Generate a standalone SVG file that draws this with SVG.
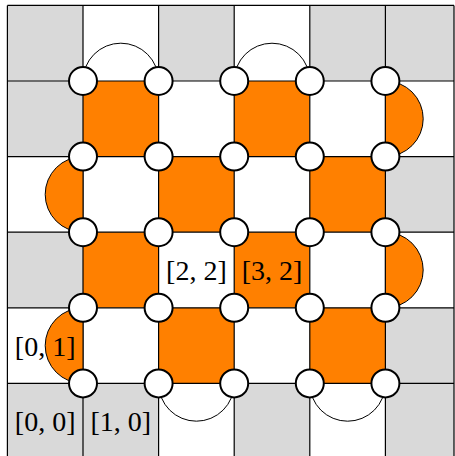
<svg xmlns="http://www.w3.org/2000/svg" width="455" height="456" viewBox="0 0 455 456">
<style>
.g{fill:#d9d9d9}
.w{fill:#ffffff}
.o{fill:#ff8000}
.grid{fill:none;stroke:#000;stroke-width:1.2}
.arc{fill:none;stroke:#000;stroke-width:1}
.half{fill:#ff8000;stroke:#000;stroke-width:1}
.v{fill:#fff;stroke:#000;stroke-width:2}
.lbl{font-family:"Liberation Serif","DejaVu Serif",serif;font-size:28px;fill:#000;text-anchor:middle}
</style>
<rect x="0" y="0" width="455" height="456" fill="#fff"/>
<g id="cells">
<rect class="g" x="7.4" y="5.4" width="75.6" height="75.6"/>
<rect class="w" x="83" y="5.4" width="75.6" height="75.6"/>
<rect class="g" x="158.6" y="5.4" width="75.6" height="75.6"/>
<rect class="w" x="234.2" y="5.4" width="75.6" height="75.6"/>
<rect class="g" x="309.8" y="5.4" width="75.6" height="75.6"/>
<rect class="g" x="385.4" y="5.4" width="68.6" height="75.6"/>

<rect class="g" x="7.4" y="81" width="75.6" height="75.6"/>
<rect class="o" x="83" y="81" width="75.6" height="75.6"/>
<rect class="w" x="158.6" y="81" width="75.6" height="75.6"/>
<rect class="o" x="234.2" y="81" width="75.6" height="75.6"/>
<rect class="w" x="309.8" y="81" width="75.6" height="75.6"/>
<rect class="w" x="385.4" y="81" width="68.6" height="75.6"/>

<rect class="w" x="7.4" y="156.6" width="75.6" height="75.6"/>
<rect class="w" x="83" y="156.6" width="75.6" height="75.6"/>
<rect class="o" x="158.6" y="156.6" width="75.6" height="75.6"/>
<rect class="w" x="234.2" y="156.6" width="75.6" height="75.6"/>
<rect class="o" x="309.8" y="156.6" width="75.6" height="75.6"/>
<rect class="g" x="385.4" y="156.6" width="68.6" height="75.6"/>

<rect class="g" x="7.4" y="232.2" width="75.6" height="75.6"/>
<rect class="o" x="83" y="232.2" width="75.6" height="75.6"/>
<rect class="w" x="158.6" y="232.2" width="75.6" height="75.6"/>
<rect class="o" x="234.2" y="232.2" width="75.6" height="75.6"/>
<rect class="w" x="309.8" y="232.2" width="75.6" height="75.6"/>
<rect class="w" x="385.4" y="232.2" width="68.6" height="75.6"/>

<rect class="w" x="7.4" y="307.8" width="75.6" height="75.6"/>
<rect class="w" x="83" y="307.8" width="75.6" height="75.6"/>
<rect class="o" x="158.6" y="307.8" width="75.6" height="75.6"/>
<rect class="w" x="234.2" y="307.8" width="75.6" height="75.6"/>
<rect class="o" x="309.8" y="307.8" width="75.6" height="75.6"/>
<rect class="g" x="385.4" y="307.8" width="68.6" height="75.6"/>

<rect class="g" x="7.4" y="383.4" width="75.6" height="75.6"/>
<rect class="g" x="83" y="383.4" width="75.6" height="75.6"/>
<rect class="w" x="158.6" y="383.4" width="75.6" height="75.6"/>
<rect class="g" x="234.2" y="383.4" width="75.6" height="75.6"/>
<rect class="w" x="309.8" y="383.4" width="75.6" height="75.6"/>
<rect class="g" x="385.4" y="383.4" width="68.6" height="75.6"/>
</g>
<g id="grid">
<path class="grid" d="M7.4,5.4V459M83,5.4V459M158.6,5.4V459M234.2,5.4V459M309.8,5.4V459M385.4,5.4V459M454,5.4V459M7.4,5.4H454M7.4,81H454M7.4,156.6H454M7.4,232.2H454M7.4,307.8H454M7.4,383.4H454"/>
</g>
<g id="connectors">
<path class="arc" d="M83,81A37.8,37.8 0 0 1 158.6,81"/>
<path class="arc" d="M234.2,81A37.8,37.8 0 0 1 309.8,81"/>
<path class="arc" d="M158.6,383.4A37.8,37.8 0 0 0 234.2,383.4"/>
<path class="arc" d="M309.8,383.4A37.8,37.8 0 0 0 385.4,383.4"/>
<path class="half" d="M385.4,81A37.8,37.8 0 0 1 385.4,156.6Z"/>
<path class="half" d="M385.4,232.2A37.8,37.8 0 0 1 385.4,307.8Z"/>
<path class="half" d="M83,156.6A37.8,37.8 0 0 0 83,232.2Z"/>
<path class="half" d="M83,307.8A37.8,37.8 0 0 0 83,383.4Z"/>
</g>
<g id="nodes">
<g id="n11"><circle class="v" cx="83" cy="81" r="14"/></g>
<g id="n21"><circle class="v" cx="158.6" cy="81" r="14"/></g>
<g id="n31"><circle class="v" cx="234.2" cy="81" r="14"/></g>
<g id="n41"><circle class="v" cx="309.8" cy="81" r="14"/></g>
<g id="n51"><circle class="v" cx="385.4" cy="81" r="14"/></g>
<g id="n12"><circle class="v" cx="83" cy="156.6" r="14"/></g>
<g id="n22"><circle class="v" cx="158.6" cy="156.6" r="14"/></g>
<g id="n32"><circle class="v" cx="234.2" cy="156.6" r="14"/></g>
<g id="n42"><circle class="v" cx="309.8" cy="156.6" r="14"/></g>
<g id="n52"><circle class="v" cx="385.4" cy="156.6" r="14"/></g>
<g id="n13"><circle class="v" cx="83" cy="232.2" r="14"/></g>
<g id="n23"><circle class="v" cx="158.6" cy="232.2" r="14"/></g>
<g id="n33"><circle class="v" cx="234.2" cy="232.2" r="14"/></g>
<g id="n43"><circle class="v" cx="309.8" cy="232.2" r="14"/></g>
<g id="n53"><circle class="v" cx="385.4" cy="232.2" r="14"/></g>
<g id="n14"><circle class="v" cx="83" cy="307.8" r="14"/></g>
<g id="n24"><circle class="v" cx="158.6" cy="307.8" r="14"/></g>
<g id="n34"><circle class="v" cx="234.2" cy="307.8" r="14"/></g>
<g id="n44"><circle class="v" cx="309.8" cy="307.8" r="14"/></g>
<g id="n54"><circle class="v" cx="385.4" cy="307.8" r="14"/></g>
<g id="n15"><circle class="v" cx="83" cy="383.4" r="14"/></g>
<g id="n25"><circle class="v" cx="158.6" cy="383.4" r="14"/></g>
<g id="n35"><circle class="v" cx="234.2" cy="383.4" r="14"/></g>
<g id="n45"><circle class="v" cx="309.8" cy="383.4" r="14"/></g>
<g id="n55"><circle class="v" cx="385.4" cy="383.4" r="14"/></g>
</g>
<g id="labels">
<text class="lbl" x="45.2" y="431">[0, 0]</text>
<text class="lbl" x="120.8" y="431">[1, 0]</text>
<text class="lbl" x="45.2" y="355.5">[0, 1]</text>
<text class="lbl" x="196.4" y="280">[2, 2]</text>
<text class="lbl" x="272" y="280">[3, 2]</text>
</g>
</svg>
